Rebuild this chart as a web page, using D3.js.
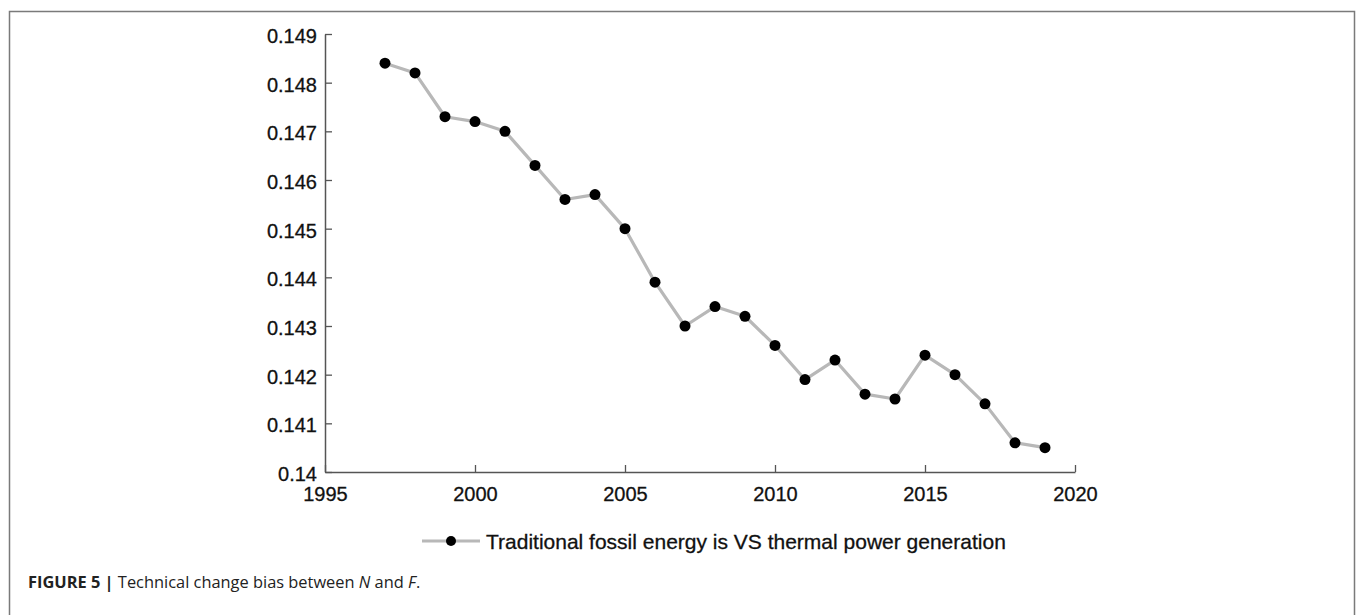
<!DOCTYPE html>
<html>
<head>
<meta charset="utf-8">
<script src="https://cdn.jsdelivr.net/npm/d3@7/dist/d3.min.js"></script>
<style>
  html, body { margin: 0; padding: 0; background: #fff; }
  svg { display: block; }
</style>
</head>
<body>
<svg id="chart" width="1357" height="615"></svg>
<script>
// Yearly bias index, fossil energy vs thermal power
const years = [1997, 1998, 1999, 2000, 2001, 2002, 2003, 2004, 2005, 2006, 2007,
               2008, 2009, 2010, 2011, 2012, 2013, 2014, 2015, 2016, 2017, 2018, 2019];
const biasValues = [0.1484, 0.1482, 0.1473, 0.1472, 0.1470, 0.1463, 0.1456, 0.1457,
                    0.1450, 0.1439, 0.1430, 0.1434, 0.1432, 0.1426, 0.1419, 0.1423,
                    0.1416, 0.1415, 0.1424, 0.1420, 0.1414, 0.1406, 0.1405];
const xTicks = [1995, 2000, 2005, 2010, 2015, 2020];
const yTicks = [0.14, 0.141, 0.142, 0.143, 0.144, 0.145, 0.146, 0.147, 0.148, 0.149];
const seriesName = "Traditional fossil energy is VS thermal power generation";

const svg = d3.select("#chart");
const font = "'Liberation Sans', Arial, sans-serif";

// Figure frame (open at the bottom)
svg.append("path")
  .attr("d", "M9.5,615 L9.5,11.5 L1354.5,11.5 L1354.5,615")
  .attr("fill", "none")
  .attr("stroke", "#7a7a7a")
  .attr("stroke-width", 1.5);

const x = d3.scaleLinear().domain([1995, 2020]).range([325, 1075]);
const y = d3.scaleLinear().domain([0.14, 0.149]).range([472, 34]);

// Axes: ticks point inward
const xAxis = svg.append("g")
  .attr("transform", `translate(0,${y(0.14)})`)
  .call(d3.axisBottom(x).tickValues(xTicks).tickFormat(d3.format("d"))
    .tickSizeInner(-7).tickSizeOuter(0).tickPadding(15));
const yAxis = svg.append("g")
  .attr("transform", `translate(${x(1995)},0)`)
  .call(d3.axisLeft(y).tickValues(yTicks).tickFormat(d => d3.format("")(+d.toFixed(3)))
    .tickSizeInner(-7).tickSizeOuter(0).tickPadding(8));

[xAxis, yAxis].forEach(g => {
  g.select(".domain").attr("stroke", "#555").attr("stroke-width", 1.5);
  g.selectAll(".tick line").attr("stroke", "#555").attr("stroke-width", 1.3);
  g.selectAll(".tick text")
    .attr("fill", "#111")
    .attr("stroke", "#111")
    .attr("stroke-width", 0.3)
    .style("font-family", font)
    .style("font-size", "20px");
});
xAxis.selectAll(".tick text").attr("dy", "0.71em");
yAxis.selectAll(".tick text").attr("dy", "0.42em");

// Series line and markers
const line = d3.line().x((d, i) => x(years[i])).y(d => y(d));
svg.append("path")
  .datum(biasValues)
  .attr("d", line)
  .attr("fill", "none")
  .attr("stroke", "#b8b8b8")
  .attr("stroke-width", 3.2)
  .attr("stroke-linejoin", "round");

svg.append("g").selectAll("circle")
  .data(biasValues)
  .join("circle")
  .attr("cx", (d, i) => x(years[i]))
  .attr("cy", d => y(d))
  .attr("r", 5.5)
  .attr("fill", "#000");

// Legend
const legend = svg.append("g").attr("transform", "translate(422,541)");
legend.append("line")
  .attr("x1", 0).attr("x2", 58).attr("y1", 0).attr("y2", 0)
  .attr("stroke", "#b8b8b8").attr("stroke-width", 3.2);
legend.append("circle").attr("cx", 29).attr("cy", 0).attr("r", 5).attr("fill", "#000");
legend.append("text")
  .attr("x", 64).attr("y", 7.5)
  .attr("fill", "#111")
  .attr("stroke", "#111")
  .attr("stroke-width", 0.3)
  .style("font-family", font)
  .style("font-size", "21px")
  .text(seriesName);

// Caption
const caption = svg.append("text")
  .attr("x", 28).attr("y", 588)
  .attr("fill", "#222")
  .style("font-family", "'Open Sans', 'Liberation Sans', Arial, sans-serif")
  .style("font-size", "16.4px");
caption.append("tspan").attr("font-weight", "bold").text("FIGURE 5 | ");
caption.append("tspan").text("Technical change bias between ");
caption.append("tspan").attr("font-style", "italic").text("N");
caption.append("tspan").text(" and ");
caption.append("tspan").attr("font-style", "italic").text("F");
caption.append("tspan").text(".");
</script>
</body>
</html>
